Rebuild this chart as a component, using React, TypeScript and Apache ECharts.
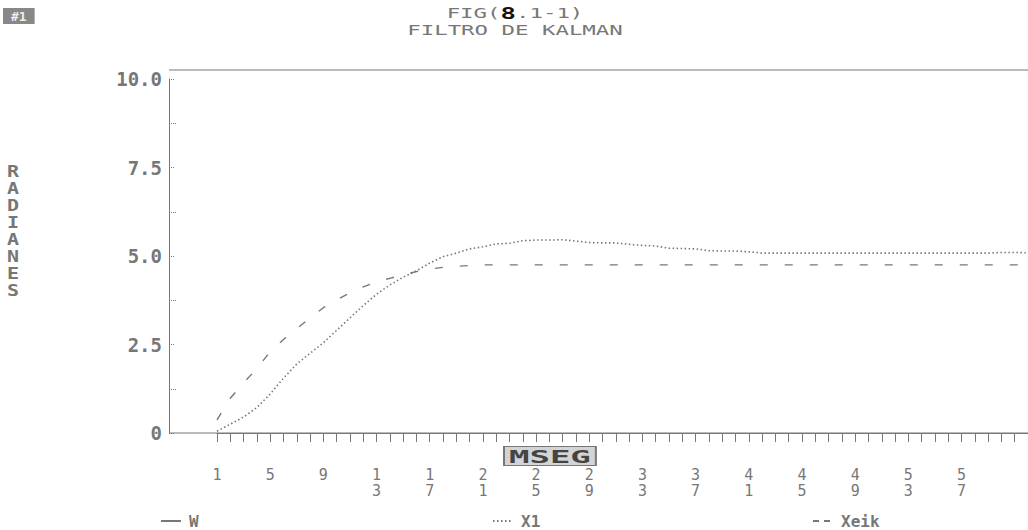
import React, { useEffect, useRef } from "react";
import * as echarts from "echarts";

const titleLine2 = "FILTRO DE KALMAN";
const yAxisTitle = "RADIANES";
const xAxisTitle = "MSEG";
const cornerTag = "#1";
const seriesNames = ["W", "X1", "Xeik"];

const xTickLabels = [1, 5, 9, 13, 17, 21, 25, 29, 33, 37, 41, 45, 49, 53, 57];
const yTickLabels: Record<number, string> = { 0: "0", 2.5: "2.5", 5: "5.0", 7.5: "7.5", 10: "10.0" };

const wValues = [
  0, 0, 0, 0, 0, 0, 0, 0, 0, 0, 0, 0, 0, 0, 0, 0, 0, 0, 0, 0, 0,
  0, 0, 0, 0, 0, 0, 0, 0, 0, 0, 0, 0, 0, 0, 0, 0, 0, 0, 0, 0, 0,
  0, 0, 0, 0, 0, 0, 0, 0, 0, 0, 0, 0, 0, 0, 0, 0, 0, 0, 0, 0,
];

const x1Values = [
  0.05, 0.25, 0.45, 0.72, 1.1, 1.55, 1.95, 2.25, 2.55, 2.9,
  3.25, 3.6, 3.92, 4.18, 4.4, 4.58, 4.8, 4.98, 5.08, 5.2,
  5.26, 5.34, 5.36, 5.43, 5.45, 5.45, 5.46, 5.42, 5.38, 5.37,
  5.37, 5.33, 5.3, 5.28, 5.22, 5.21, 5.2, 5.15, 5.14, 5.14,
  5.12, 5.08, 5.08, 5.08, 5.08, 5.08, 5.08, 5.08, 5.08, 5.08,
  5.08, 5.08, 5.08, 5.08, 5.08, 5.08, 5.08, 5.08, 5.08, 5.1,
  5.1, 5.09,
];

const xeikValues = [
  0.37, 0.98, 1.42, 1.82, 2.3, 2.64, 2.95, 3.25, 3.54, 3.76,
  3.96, 4.13, 4.27, 4.37, 4.47, 4.56, 4.63, 4.68, 4.71, 4.73,
  4.75, 4.75, 4.75, 4.75, 4.75, 4.75, 4.75, 4.75, 4.75, 4.75,
  4.75, 4.75, 4.75, 4.75, 4.75, 4.75, 4.75, 4.75, 4.75, 4.75,
  4.75, 4.75, 4.75, 4.75, 4.75, 4.75, 4.75, 4.75, 4.75, 4.75,
  4.75, 4.75, 4.75, 4.75, 4.75, 4.75, 4.75, 4.75, 4.75, 4.75,
  4.75, 4.75,
];

const toPairs = (vals: number[]) => vals.map((v, i) => [i + 1, v]);

const INK = "#777";
const FONT = "'DejaVu Sans Mono', monospace";

export default function App() {
  const ref = useRef<HTMLDivElement>(null);
  useEffect(() => {
    const chart = echarts.init(ref.current!, null, { renderer: "svg" });
    const legendBase = {
      top: 508,
      itemWidth: 20,
      itemHeight: 10,
      itemGap: 6,
      itemStyle: { opacity: 0 },
      textStyle: { color: INK, fontFamily: FONT, fontSize: 16, fontWeight: "bold", padding: [0, 0, 0, 3] },
    };
    chart.setOption({
      animation: false,
      backgroundColor: "#fff",
      grid: { left: 217, right: 0, top: 79, bottom: 97, containLabel: false },
      legend: [
        { ...legendBase, left: 155, data: [seriesNames[0]], lineStyle: { type: "solid" } },
        { ...legendBase, left: 487, data: [seriesNames[1]], lineStyle: { type: [1.5, 2.5] } },
        { ...legendBase, left: 807, data: [seriesNames[2]], lineStyle: { type: [6, 5] } },
      ],
      xAxis: {
        type: "value",
        min: 1,
        max: 62,
        interval: 1,
        splitLine: { show: false },
        axisLine: { show: true, lineStyle: { color: INK, width: 1 } },
        axisTick: { show: true, length: 9, lineStyle: { color: INK } },
        axisLabel: {
          margin: 34,
          color: INK,
          fontFamily: FONT,
          fontSize: 15,
          lineHeight: 16,
          showMinLabel: true,
          showMaxLabel: false,
          formatter: (v: number) =>
            xTickLabels.includes(v) ? String(v).split("").join("\n") : "",
        },
      },
      yAxis: {
        type: "value",
        min: 0,
        max: 10,
        interval: 2.5,
        offset: 48,
        splitLine: { show: false },
        axisLine: { show: true, lineStyle: { color: INK, width: 1 } },
        axisTick: { show: true, inside: true, length: 6, lineStyle: { color: INK, type: "dotted" } },
        minorTick: { show: true, splitNumber: 2, length: 8, lineStyle: { color: INK, type: "dotted" } },
        axisLabel: {
          margin: 7,
          color: INK,
          fontFamily: FONT,
          fontSize: 19,
          fontWeight: "bold",
          formatter: (v: number) => yTickLabels[v] ?? "",
        },
      },
      graphic: [
        {
          type: "line",
          shape: { x1: 169, y1: 70, x2: 1028, y2: 70 },
          style: { stroke: INK, lineWidth: 1 },
        },
        {
          type: "line",
          shape: { x1: 169, y1: 433, x2: 217, y2: 433 },
          style: { stroke: INK, lineWidth: 1 },
        },
        {
          type: "text",
          x: 515,
          y: 5,
          scaleX: 1.6,
          style: {
            text: `FIG({b|8}.1-1)`,
            textAlign: "center",
            textVerticalAlign: "top",
            fill: INK,
            font: `14px ${FONT}`,
            rich: {
              b: { fill: "#111", font: `bold 16px ${FONT}` },
            },
          },
        },
        {
          type: "text",
          x: 515,
          y: 23,
          scaleX: 1.6,
          style: {
            text: titleLine2,
            textAlign: "center",
            textVerticalAlign: "top",
            fill: INK,
            font: `14px ${FONT}`,
          },
        },
        {
          type: "text",
          x: 3,
          y: 8,
          style: {
            text: cornerTag,
            fill: "#eee",
            backgroundColor: "#888",
            padding: [2, 8, 1, 8],
            font: `bold 13px ${FONT}`,
          },
        },
        {
          type: "text",
          x: 7,
          y: 163,
          scaleX: 1.25,
          style: {
            text: yAxisTitle.split("").join("\n"),
            fill: INK,
            font: `bold 16px ${FONT}`,
            lineHeight: 17,
          },
        },
        {
          type: "text",
          x: 505,
          y: 447,
          scaleX: 2.0,
          style: {
            text: xAxisTitle,
            fill: "#444",
            backgroundColor: "#d4d4d4",
            borderColor: "#777",
            borderWidth: 1,
            padding: [1, 2, 0, 2],
            font: `bold 17px ${FONT}`,
          },
        },
      ],
      series: [
        {
          name: seriesNames[0],
          type: "line",
          data: toPairs(wValues),
          symbol: "none",
          lineStyle: { color: INK, width: 1, type: "solid" },
          itemStyle: { color: INK },
        },
        {
          name: seriesNames[1],
          type: "line",
          data: toPairs(x1Values),
          symbol: "none",
          lineStyle: { color: INK, width: 1.6, type: [1.5, 2.5] },
          itemStyle: { color: INK },
        },
        {
          name: seriesNames[2],
          type: "line",
          data: toPairs(xeikValues),
          symbol: "none",
          lineStyle: { color: INK, width: 1.4, type: [8, 17] },
          itemStyle: { color: INK },
        },
      ],
    });
    return () => chart.dispose();
  }, []);
  return (
    <div
      ref={ref}
      style={{ position: "fixed", left: 0, top: 0, width: 1028, height: 530, background: "#fff" }}
    />
  );
}
